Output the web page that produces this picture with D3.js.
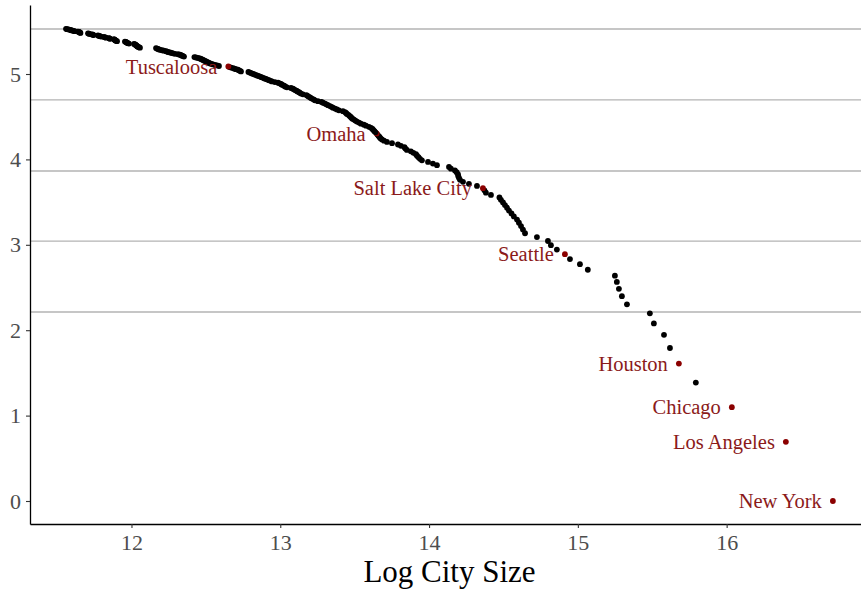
<!DOCTYPE html>
<html>
<head>
<meta charset="utf-8">
<script src="https://cdn.jsdelivr.net/npm/d3@7"></script>
<style>
  html, body { margin: 0; padding: 0; background: #fff; }
  svg { display: block; }
  text { font-family: "Liberation Serif", "DejaVu Serif", serif; }
</style>
</head>
<body>
<svg id="chart" width="861" height="595"></svg>
<script>
// Log city size, ordered by rank (rank 1 = largest)
const logCitySize = [
  16.714, 16.398, 16.035, 15.793, 15.679, 15.619, 15.579, 15.511, 15.484, 15.330,
  15.296, 15.276, 15.262, 15.249, 15.067, 15.014, 14.947, 14.913, 14.859, 14.819,
  14.799, 14.725, 14.645, 14.631, 14.618, 14.604, 14.591, 14.570, 14.554, 14.537,
  14.524, 14.510, 14.497, 14.483, 14.473, 14.416, 14.382, 14.372, 14.362, 14.322,
  14.268, 14.228, 14.208, 14.201, 14.196, 14.194, 14.185, 14.174, 14.147, 14.134,
  14.053, 14.026, 13.993, 13.952, 13.939, 13.929, 13.919, 13.912, 13.895, 13.878,
  13.851, 13.841, 13.835, 13.811, 13.791, 13.751, 13.717, 13.697, 13.683, 13.673,
  13.667, 13.660, 13.653, 13.648, 13.640, 13.633, 13.626, 13.620, 13.610, 13.596,
  13.576, 13.562, 13.542, 13.529, 13.515, 13.505, 13.495, 13.485, 13.478, 13.472,
  13.465, 13.458, 13.448, 13.442, 13.435, 13.421, 13.394, 13.381, 13.368, 13.354,
  13.344, 13.334, 13.321, 13.310, 13.300, 13.287, 13.277, 13.253, 13.233, 13.226,
  13.216, 13.206, 13.200, 13.190, 13.183, 13.176, 13.153, 13.139, 13.132, 13.126,
  13.116, 13.109, 13.099, 13.092, 13.085, 13.072, 13.045, 13.035, 13.028, 13.021,
  13.011, 13.005, 12.995, 12.985, 12.964, 12.944, 12.934, 12.924, 12.914, 12.904,
  12.894, 12.884, 12.874, 12.864, 12.853, 12.843, 12.833, 12.823, 12.813, 12.803,
  12.796, 12.786, 12.736, 12.729, 12.722, 12.716, 12.702, 12.692, 12.682, 12.669,
  12.659, 12.651, 12.588, 12.575, 12.561, 12.548, 12.538, 12.528, 12.521, 12.514,
  12.507, 12.501, 12.494, 12.487, 12.481, 12.474, 12.467, 12.460, 12.447, 12.433,
  12.423, 12.353, 12.346, 12.340, 12.333, 12.326, 12.313, 12.292, 12.279, 12.269,
  12.259, 12.245, 12.239, 12.232, 12.218, 12.205, 12.192, 12.185, 12.178, 12.171,
  12.165, 12.057, 12.050, 12.044, 12.040, 12.037, 12.034, 12.030, 12.027, 12.024,
  12.017, 11.983, 11.976, 11.970, 11.966, 11.963, 11.956, 11.903, 11.896, 11.892,
  11.889, 11.886, 11.882, 11.856, 11.852, 11.849, 11.829, 11.822, 11.815, 11.795,
  11.788, 11.782, 11.775, 11.745, 11.741, 11.735, 11.721, 11.714, 11.708, 11.657,
  11.654, 11.651, 11.647, 11.640, 11.617, 11.610, 11.600, 11.593, 11.587, 11.577,
  11.567, 11.560
];

// Highlighted cities and their ranks
const labelNames = ["New York", "Los Angeles", "Chicago", "Houston", "Seattle", "Salt Lake City", "Omaha", "Tuscaloosa"];
const labelRanks = [1, 2, 3, 5, 18, 39, 74, 162];

// Horizontal reference lines (log rank)
const refLines = [5.527, 4.696, 3.864, 3.044, 2.213];

// Axis ticks
const xTicks = [12, 13, 14, 15, 16];
const yTicks = [0, 1, 2, 3, 4, 5];
const xTitle = "Log City Size";

// Build points: y = log(rank)
const points = logCitySize.map((v, i) => ({ x: v, y: Math.log(i + 1), rank: i + 1 }));
const labelled = labelNames.map((n, i) => ({ name: n, rank: labelRanks[i] }));
const labelSet = new Set(labelRanks);

const svg = d3.select("#chart");
const x = d3.scaleLinear().domain([11.318, 16.903]).range([30, 861]);
const y = d3.scaleLinear().domain([-0.2693, 5.808]).range([524, 5]);

// reference lines
svg.append("g").selectAll("line").data(refLines).join("line")
  .attr("x1", 30).attr("x2", 861)
  .attr("y1", d => y(d)).attr("y2", d => y(d))
  .attr("stroke", "#b3b3b3").attr("stroke-width", 1.3);

// axes
const gx = svg.append("g").attr("transform", `translate(0,${y.range()[0]})`)
  .call(d3.axisBottom(x).tickValues(xTicks).tickFormat(d3.format("d"))
    .tickSize(4).tickSizeOuter(0).tickPadding(6));
const gy = svg.append("g").attr("transform", `translate(${x.range()[0]},0)`)
  .call(d3.axisLeft(y).tickValues(yTicks).tickFormat(d3.format("d"))
    .tickSize(4).tickSizeOuter(0).tickPadding(5));
[gx, gy].forEach(g => {
  g.select(".domain").attr("stroke", "#000").attr("stroke-width", 1.3);
  g.selectAll(".tick line").attr("stroke", "#333").attr("stroke-width", 1.1);
  g.selectAll(".tick text").attr("fill", "#4d4d4d").style("font-size", "22px")
    .style("font-family", '"Liberation Serif", serif');
});

// points
svg.append("g").selectAll("circle").data(points).join("circle")
  .attr("cx", d => x(d.x)).attr("cy", d => y(d.y)).attr("r", 2.9)
  .attr("fill", d => labelSet.has(d.rank) ? "#8b0000" : "#000");

// labels
svg.append("g").selectAll("text").data(labelled).join("text")
  .attr("x", d => x(points[d.rank - 1].x) - 11)
  .attr("y", d => y(points[d.rank - 1].y))
  .attr("dy", "0.35em")
  .attr("text-anchor", "end")
  .attr("fill", "#8b1a1a")
  .style("font-size", "20.5px")
  .text(d => d.name);

// x title
svg.append("text")
  .attr("x", (x.range()[0] + x.range()[1]) / 2 + 4)
  .attr("y", 582)
  .attr("text-anchor", "middle")
  .attr("fill", "#000")
  .style("font-size", "31px")
  .text(xTitle);
</script>
</body>
</html>
